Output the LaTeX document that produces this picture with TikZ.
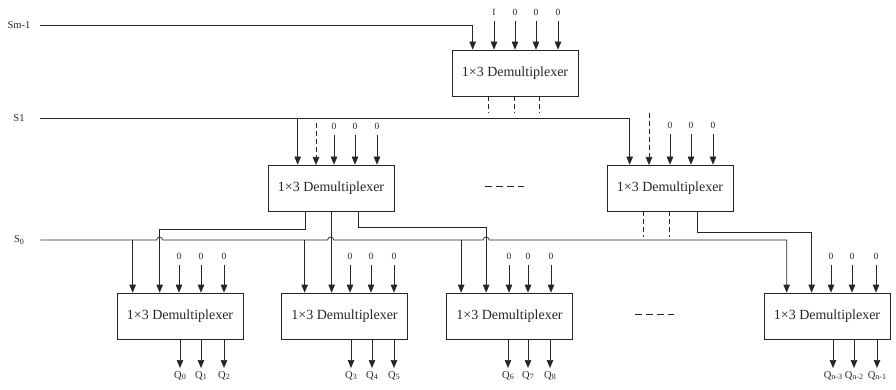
\documentclass[tikz,border=0pt]{standalone}
\usepackage{fontspec}
\setmainfont{Liberation Serif}
\usetikzlibrary{arrows.meta,calc}

\newcommand{\lowidx}[1]{\raisebox{-0.35ex}{\fontsize{8}{9}\selectfont #1}}

\begin{document}
\begin{tikzpicture}[
    x=1pt, y=-1pt,
    line width=0.7pt, black!85,
    % Node styles
    demux/.style={
        draw,
        minimum width=126pt,
        minimum height=46pt,
        inner sep=0pt,
        font=\fontsize{14}{16}\selectfont
    },
    sel/.style={minimum width=42pt, inner sep=0pt, font=\fontsize{10.5}{12}\selectfont},
    bit/.style={inner xsep=1pt, inner ysep=5.5pt, font=\fontsize{9.5}{11}\selectfont},
    qout/.style={anchor=north, inner xsep=1pt, inner ysep=3pt, font=\fontsize{10.5}{12}\selectfont},
    % Arrow styles
    arrow/.style={-{Triangle[length=8pt,width=6.5pt]}},
    dashline/.style={dash pattern=on 5pt off 3pt},
    dots/.style={dash pattern=on 7pt off 4pt}
    ]
    \useasboundingbox (0,0) rectangle (896,390);

    % Demultiplexer blocks
    \node[demux] (top) at (515,73)    {1×3 Demultiplexer};
    \node[demux] (mL)  at (331,188)   {1×3 Demultiplexer};
    \node[demux] (mR)  at (670,188)   {1×3 Demultiplexer};
    \node[demux] (b1)  at (180,316)   {1×3 Demultiplexer};
    \node[demux] (b2)  at (344.5,316) {1×3 Demultiplexer};
    \node[demux] (b3)  at (509.5,316) {1×3 Demultiplexer};
    \node[demux] (b4)  at (827,316)   {1×3 Demultiplexer};

    % Select lines
    \node[sel] (sm) at (19,25)  {Sm-1};
    \node[sel] (s1) at (19,118) {S1};
    \node[sel] (s0) at (19,240) {S\lowidx{0}};

    % Taps on the block inputs
    \coordinate (t1)  at ($(top.north west)+(21,0)$);
    \coordinate (mL1) at ($(mL.north west)+(30,0)$);
    \coordinate (mR1) at ($(mR.north west)+(23,0)$);
    \coordinate (b1f) at ($(b1.north west)+(16,0)$);
    \coordinate (b1s) at ($(b1.north west)+(43,0)$);
    \coordinate (b2f) at ($(b2.north west)+(23.5,0)$);
    \coordinate (b2s) at ($(b2.north west)+(49.5,0)$);
    \coordinate (b3f) at ($(b3.north west)+(15,0)$);
    \coordinate (b3s) at ($(b3.north west)+(40,0)$);
    \coordinate (b4f) at ($(b4.north west)+(23,0)$);
    \coordinate (b4s) at ($(b4.north west)+(48,0)$);

    % Top block inputs
    \draw[arrow] (sm.east) -| (t1);
    \node[bit] (tI) at (494,12) {I};
    \node[bit] (tz1) at (515,12) {0};
    \node[bit] (tz2) at (536,12) {0};
    \node[bit] (tz3) at (558,12) {0};
    \foreach \n in {tI,tz1,tz2,tz3}
        \draw[arrow] (\n.south) -- (\n |- top.north);

    % Top block outputs (not shown)
    \foreach \dx in {37,63,88}
        \draw[dashline] ($(top.south west)+(\dx,0)$) -- ++(0,17);

    % S1 to both middle blocks
    \draw[arrow] (s1.east) -| (mR1);
    \draw[arrow] (mL1 |- s1.east) -- (mL1);

    % Middle left inputs
    \draw[arrow, dashline] (316,123) -- (316,165);
    \node[bit] (mLz1) at (334,126) {0};
    \node[bit] (mLz2) at (355,126) {0};
    \node[bit] (mLz3) at (377,126) {0};

    % Middle right inputs
    \draw[arrow, dashline] (649,113) -- (649,165);
    \node[bit] (mRz1) at (670,125) {0};
    \node[bit] (mRz2) at (691,125) {0};
    \node[bit] (mRz3) at (713,125) {0};
    \foreach \n in {mLz1,mLz2,mLz3,mRz1,mRz2,mRz3}
        \draw[arrow] (\n.south) -- (\n |- mL.north);

    % Gap between middle blocks
    \draw[dots] (485,186) -- (524,186);

    % S0 with jumps over the crossing lines
    \draw[arrow] (s0.east)
        -- ($(b1s |- s0.east)+(-3,0)$) arc[start angle=180, end angle=0, radius=3pt]
        -- ($(b2s |- s0.east)+(-3,0)$) arc[start angle=180, end angle=0, radius=3pt]
        -- ($(b3s |- s0.east)+(-3,0)$) arc[start angle=180, end angle=0, radius=3pt]
        -| (b4f);
    \foreach \c in {b1f,b2f,b3f}
        \draw[arrow] (\c |- s0.east) -- (\c);

    % Middle left outputs
    \coordinate (mLo1) at ($(mL.south west)+(38,0)$);
    \coordinate (mLo2) at ($(mL.south west)+(64,0)$);
    \coordinate (mLo3) at ($(mL.south west)+(91,0)$);
    \draw[arrow] (mLo1) -- ++(0,18) -| (b1s);
    \draw[arrow] (mLo2) -- (mLo2 |- b2.north);
    \draw[arrow] (mLo3) -- ++(0,16) -| (b3s);

    % Middle right outputs
    \foreach \dx in {37,63}
        \draw[dashline] ($(mR.south west)+(\dx,0)$) -- ++(0,26);
    \draw[arrow] ($(mR.south west)+(91,0)$) -- ++(0,21) -| (b4s);

    % Bottom blocks: constant inputs
    \foreach \b/\xa/\xb/\xc in {b1/179/201/224, b2/350/371/394, b3/509/528/551, b4/831/852/876}{
        \node[bit] (\b-z1) at (\xa,256) {0};
        \node[bit] (\b-z2) at (\xb,256) {0};
        \node[bit] (\b-z3) at (\xc,256) {0};
        \foreach \k in {1,2,3}
            \draw[arrow] (\b-z\k.south) -- (\b-z\k |- \b.north);
    }

    % Bottom blocks: outputs
    \foreach \b/\x/\q in {b1/180/0, b1/201/1, b1/224/2,
                          b2/351/3, b2/372/4, b2/394/5,
                          b3/508/6, b3/528/7, b3/550/8,
                          b4/833/n-3, b4/854/n-2, b4/877/n-1}{
        \node[qout] (q\q) at (\x,368) {Q\lowidx{\q}};
        \draw[arrow] (q\q |- \b.south) -- (q\q.north);
    }

    % Gap between bottom blocks
    \draw[dots] (635,314) -- (674,314);

\end{tikzpicture}
\end{document}
